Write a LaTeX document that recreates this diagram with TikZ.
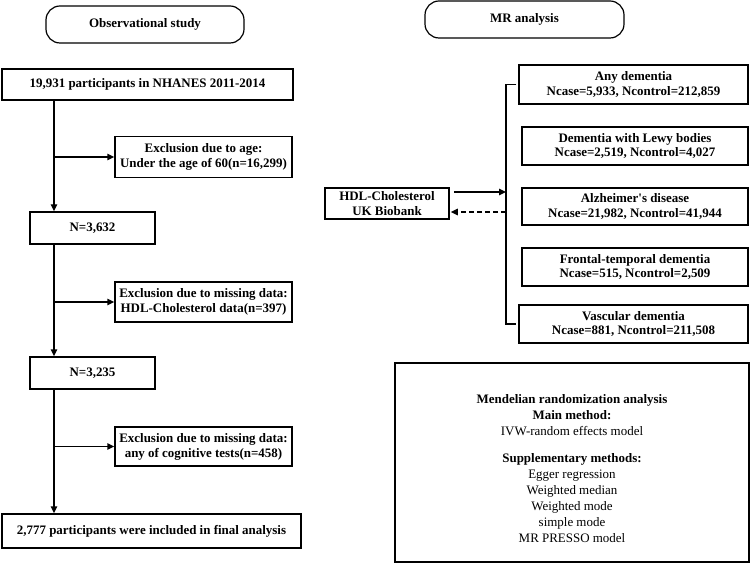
\documentclass[tikz,border=0pt]{standalone}
\usepackage{fontspec}
\setmainfont{Liberation Serif}
\usetikzlibrary{arrows.meta}
\begin{document}
\begin{tikzpicture}[x=1bp,y=-1bp,
  every node/.style={font=\fontsize{13}{15}\selectfont\bfseries, inner sep=0pt, align=center},
  box/.style={draw, line width=1.5pt, rectangle},
  pill/.style={draw, line width=1.2pt, rounded corners=14bp},
  conn/.style={line width=1.5pt},
  arr/.style={conn, -{Triangle[length=7bp,width=6.5bp]}},
  dasharr/.style={arr, dash pattern=on 5bp off 3bp}
]
\useasboundingbox (0,0) rectangle (750,563);
% left
\node[pill, minimum width=198bp, minimum height=37bp] (obs) at (145,24.5) {Observational study};
\node[box, minimum width=291bp, minimum height=31bp] (b1) at (147.5,84.5) {19,931 participants in NHANES 2011-2014};
\node[box, minimum width=177bp, minimum height=41bp] (ex1) at (203.5,157) {Exclusion due to age:\\Under the age of 60(n=16,299)};
\node[box, minimum width=125bp, minimum height=32bp] (n1) at (92.5,228) {N=3,632};
\node[box, minimum width=177bp, minimum height=40bp] (ex2) at (203.5,302) {Exclusion due to missing data:\\HDL-Cholesterol data(n=397)};
\node[box, minimum width=125bp, minimum height=32bp] (n2) at (92.5,373) {N=3,235};
\node[box, minimum width=177bp, minimum height=39bp] (ex3) at (203.5,446.5) {Exclusion due to missing data:\\any of cognitive tests(n=458)};
\node[box, minimum width=299bp, minimum height=34bp] (fin) at (151.5,531) {2,777 participants were included in final analysis};
\coordinate (sp) at (54,0);
\draw[arr] (b1.south -| sp) -- (n1.north -| sp);
\draw[arr] (ex1.west -| sp) -- (ex1.west);
\draw[arr] (n1.south -| sp) -- (n2.north -| sp);
\draw[arr] (ex2.west -| sp) -- (ex2.west);
\draw[arr] (n2.south -| sp) -- (fin.north -| sp);
\draw[arr] (ex3.west -| sp) -- (ex3.west);
% right
\node[pill, minimum width=199bp, minimum height=37bp] (mr) at (524.5,19.5) {MR analysis};
\node[box, minimum width=229bp, minimum height=39bp] (d1) at (633.5,84.5) {Any dementia\\Ncase=5,933, Ncontrol=212,859};
\node[box, minimum width=226bp, minimum height=38bp] (d2) at (635,146) {Dementia with Lewy bodies\\Ncase=2,519, Ncontrol=4,027};
\node[box, minimum width=226bp, minimum height=37bp] (d3) at (635,206.5) {Alzheimer\textquotesingle s disease\\Ncase=21,982, Ncontrol=41,944};
\node[box, minimum width=226bp, minimum height=38bp] (d4) at (635,267) {Frontal-temporal dementia\\Ncase=515, Ncontrol=2,509};
\node[box, minimum width=229bp, minimum height=38bp] (d5) at (633.5,324) {Vascular dementia\\Ncase=881, Ncontrol=211,508};
\node[box, minimum width=124bp, minimum height=31bp] (hdl) at (387,203.5) {HDL-Cholesterol\\UK Biobank};
\coordinate (br) at (506,0);
\draw[conn] ([xshift=-2bp]d1.west) -- (d1.west -| br) -- (d5.west -| br) -- ([xshift=-2bp]d5.west);
\coordinate (aIn) at ([yshift=11.5bp]hdl.east);
\coordinate (aOut) at ([yshift=-8.5bp]hdl.east);
\draw[arr] ([xshift=4bp]aIn) -- (aIn -| br);
\draw[dasharr] (aOut -| br) -- ([xshift=1bp]aOut);
\node[box, minimum width=354bp, minimum height=199bp] (meth) at (572,462.5) {};
\node[font=\fontsize{13}{16}\selectfont] (mtxt) at (572,468.5) {\textbf{Mendelian randomization analysis}\\\textbf{Main method:}\\IVW-random effects model\\[11bp]\textbf{Supplementary methods:}\\Egger regression\\Weighted median\\Weighted mode\\simple mode\\MR PRESSO model};
\end{tikzpicture}
\end{document}
